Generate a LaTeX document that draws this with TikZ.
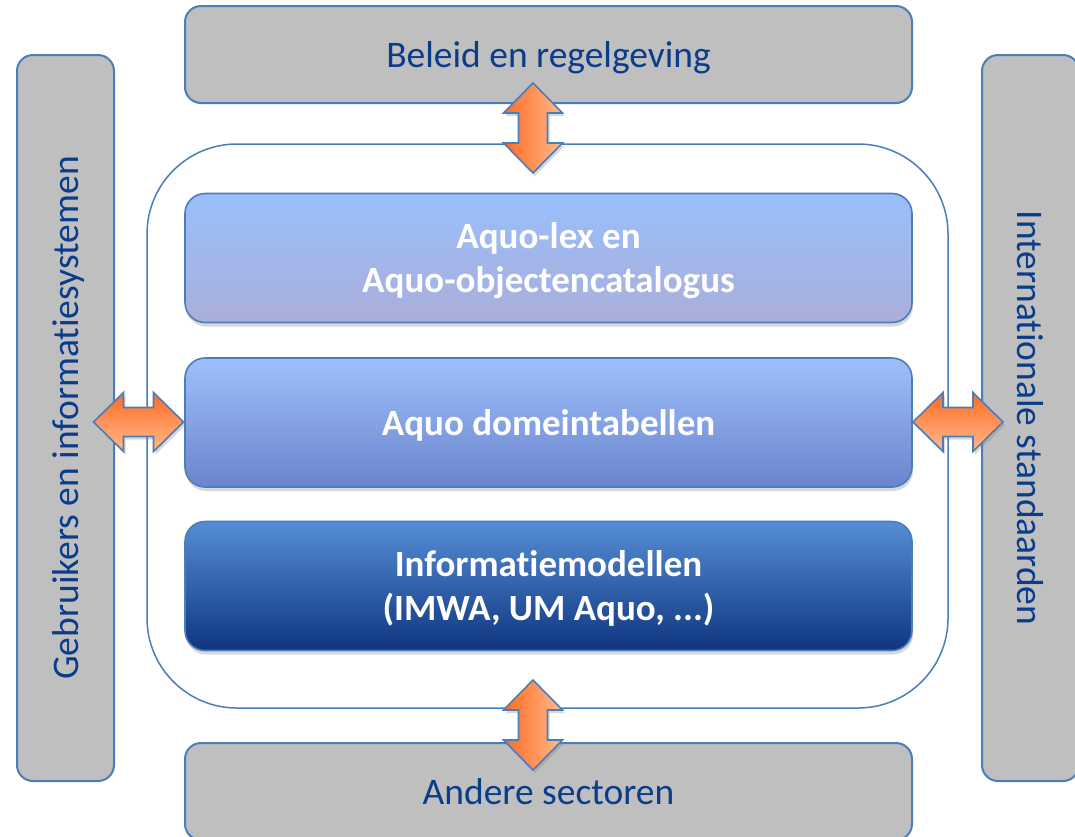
\documentclass[tikz,border=0pt]{standalone}
\usepackage{fontspec}
\setmainfont{Carlito}[Ligatures={NoCommon}]
\usetikzlibrary{shadows}
\definecolor{grayfill}{RGB}{191,191,191}
\definecolor{edgeblue}{RGB}{74,126,187}
\definecolor{textblue}{RGB}{10,60,140}
\definecolor{bAtop}{RGB}{153,191,252}
\definecolor{bAbot}{RGB}{170,174,217}
\definecolor{bBtop}{RGB}{157,192,251}
\definecolor{bBbot}{RGB}{108,132,206}
\definecolor{bCtop}{RGB}{85,142,213}
\definecolor{bCbot}{RGB}{15,53,128}
\definecolor{ordark}{RGB}{255,106,34}
\definecolor{orlight}{RGB}{255,186,140}
\tikzset{
  graybox/.style={draw=edgeblue, line width=2pt, fill=grayfill, rounded corners=16pt,
    inner sep=0pt, text=textblue, text depth=0pt, font=\fontsize{37.5}{44}\selectfont},
  graytext/.style={text=textblue, text depth=0pt, font=\fontsize{37.5}{44}\selectfont},
  layerbox/.style={draw=edgeblue, line width=1.6pt, rounded corners=20pt, inner sep=0pt,
    minimum width=727pt, minimum height=129pt, text=white, align=center, text depth=0pt,
    font=\fontsize{37}{44}\selectfont\bfseries,
    drop shadow={opacity=0.3, shadow xshift=1pt, shadow yshift=-4pt}},
  arrowshape/.style={draw=edgeblue, line width=1.6pt,
    drop shadow={opacity=0.3, shadow xshift=2pt, shadow yshift=-3pt}},
  dblarrowv/.pic={\path[arrowshape, left color=ordark, right color=orlight]
    (0,-45) -- (29.5,-15) -- (14.5,-15) -- (14.5,15) -- (29.5,15) -- (0,45)
    -- (-29.5,15) -- (-14.5,15) -- (-14.5,-15) -- (-29.5,-15) -- cycle;},
  dblarrowh/.pic={\path[arrowshape, top color=ordark, bottom color=orlight]
    (-45,0) -- (-15,-29.5) -- (-15,-14.5) -- (15,-14.5) -- (15,-29.5) -- (45,0)
    -- (15,29.5) -- (15,14.5) -- (-15,14.5) -- (-15,29.5) -- cycle;}
}
\begin{document}
\begin{tikzpicture}[x=1pt,y=-1pt]
\clip (0,0) rectangle (1075,836);
\fill[white] (0,0) rectangle (1075,836);
% outer gray boxes
\node[graybox, minimum width=727pt, minimum height=97pt] (beleid) at (548.5,54.5) {Beleid en regelgeving};
\node[graybox, minimum width=727pt, minimum height=97pt] (andere) at (548.5,791.5) {Andere sectoren};
\node[graybox, minimum width=97pt, minimum height=726pt] (gebruikers) at (65.5,418) {};
\node[graybox, minimum width=97pt, minimum height=726pt] (internat) at (1030.5,418) {};
\node[graytext, rotate=90] (gebtxt) at (gebruikers.center) {Gebruikers en informatiesystemen};
\node[graytext, rotate=-90] (inttxt) at (internat.center) {Internationale standaarden};
% central frame
\node[draw=edgeblue, line width=1.5pt, fill=white, rounded corners=90pt, minimum width=801pt, minimum height=564pt, inner sep=0pt] (frame) at (547.5,426) {};
% layers
\node[layerbox, top color=bAtop, bottom color=bAbot] (lex) at (548.5,258) {Aquo-lex en\\Aquo-objectencatalogus};
\node[layerbox, top color=bBtop, bottom color=bBbot] (dom) at (548.5,422.5) {Aquo domeintabellen};
\node[layerbox, top color=bCtop, bottom color=bCbot] (im) at (548.5,586) {Informatiemodellen\\(IMWA, UM Aquo, ...)};
% block arrows
\pic (atop) at (533,128) {dblarrowv};
\pic (abot) at (533,725) {dblarrowv};
\pic (aleft) at (138.5,422) {dblarrowh};
\pic (aright) at (958,422) {dblarrowh};
\end{tikzpicture}
\end{document}
